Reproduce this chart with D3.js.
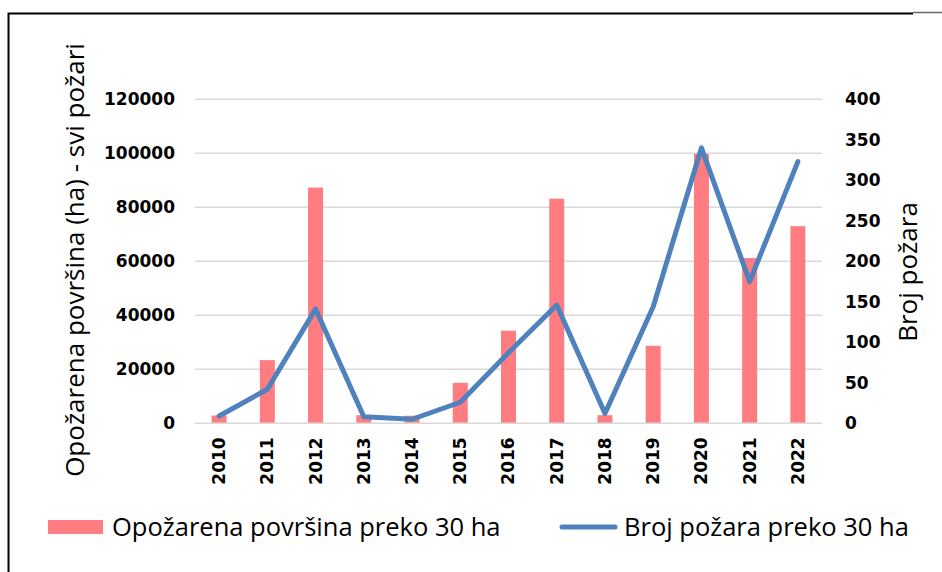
<!DOCTYPE html>
<html>
<head>
<meta charset="utf-8">
<script src="https://cdn.jsdelivr.net/npm/d3@7"></script>
<style>
  body { margin: 0; background: #fff; }
  .tick text { font-family: "DejaVu Sans", sans-serif; font-weight: bold; font-size: 17px; fill: #000; }
  .title { font-family: "Open Sans", sans-serif; font-size: 26px; fill: #000; }
  .legend { font-family: "Open Sans", sans-serif; font-size: 25.5px; fill: #000; }
</style>
</head>
<body>
<script>
const years = ["2010","2011","2012","2013","2014","2015","2016","2017","2018","2019","2020","2021","2022"];
const burnedArea = [2900, 23400, 87300, 3000, 2800, 15000, 34300, 83200, 3000, 28700, 99800, 61200, 73000];
const fireCount = [9, 42, 141, 8, 5, 26, 87, 146, 12, 144, 340, 175, 323];
const leftTicks = [0, 20000, 40000, 60000, 80000, 100000, 120000];
const rightTicks = [0, 50, 100, 150, 200, 250, 300, 350, 400];

const width = 942, height = 572;
const plot = { left: 195, right: 822, top: 99.3, bottom: 423.3 };

const svg = d3.select("body").append("svg")
    .attr("width", width)
    .attr("height", height);

// frame (left + top edge of the pasted image)
svg.append("path")
    .attr("d", `M8.5,572 V13.5 H913`)
    .attr("fill", "none")
    .attr("stroke", "#000")
    .attr("stroke-width", 2);
svg.append("line")
    .attr("x1", 913).attr("x2", 942).attr("y1", 12.5).attr("y2", 12.5)
    .attr("stroke", "#666").attr("stroke-width", 1.5);

const x = d3.scaleBand()
    .domain(years)
    .range([plot.left, plot.right]);

const yLeft = d3.scaleLinear()
    .domain([0, 120000])
    .range([plot.bottom, plot.top]);

const yRight = d3.scaleLinear()
    .domain([0, 400])
    .range([plot.bottom, plot.top]);

// gridlines
svg.append("g")
    .selectAll("line")
    .data(leftTicks.slice(1))
    .join("line")
    .attr("x1", plot.left)
    .attr("x2", plot.right)
    .attr("y1", d => yLeft(d))
    .attr("y2", d => yLeft(d))
    .attr("stroke", "#d9d9d9")
    .attr("stroke-width", 1.5);

// left axis
svg.append("g")
    .attr("transform", `translate(${plot.left},0)`)
    .call(d3.axisLeft(yLeft).tickValues(leftTicks).tickFormat(d3.format("d")).tickSize(0).tickPadding(20))
    .call(g => g.select(".domain").remove());

// right axis
svg.append("g")
    .attr("transform", `translate(${plot.right},0)`)
    .call(d3.axisRight(yRight).tickValues(rightTicks).tickSize(0).tickPadding(23))
    .call(g => g.select(".domain").remove());

// bars
const barW = 15;
svg.append("g")
    .selectAll("rect")
    .data(burnedArea)
    .join("rect")
    .attr("x", (d, i) => x(years[i]) + x.bandwidth() / 2 - barW / 2)
    .attr("width", barW)
    .attr("y", d => yLeft(d))
    .attr("height", d => yLeft(0) - yLeft(d))
    .attr("fill", "#ff7c80");

// baseline
svg.append("line")
    .attr("x1", plot.left).attr("x2", plot.right)
    .attr("y1", plot.bottom).attr("y2", plot.bottom)
    .attr("stroke", "#d9d9d9").attr("stroke-width", 1.5);

// x axis
svg.append("g")
    .attr("transform", `translate(0,${plot.bottom})`)
    .call(d3.axisBottom(x).tickSize(0).tickPadding(0))
    .call(g => g.select(".domain").remove())
    .selectAll("text")
    .attr("transform", "rotate(-90)")
    .attr("text-anchor", "end")
    .attr("x", -14)
    .attr("y", 0)
    .attr("dy", "0.35em");

// line
const line = d3.line()
    .x((d, i) => x(years[i]) + x.bandwidth() / 2)
    .y(d => yRight(d));

svg.append("path")
    .datum(fireCount)
    .attr("d", line)
    .attr("fill", "none")
    .attr("stroke", "#4f81bd")
    .attr("stroke-width", 5)
    .attr("stroke-linejoin", "round")
    .attr("stroke-linecap", "round");

// axis titles
svg.append("text")
    .attr("class", "title")
    .attr("transform", "translate(84,260) rotate(-90)")
    .attr("text-anchor", "middle")
    .text("Opožarena površina (ha) - svi požari");

svg.append("text")
    .attr("class", "title")
    .attr("transform", "translate(917,272) rotate(-90)")
    .attr("text-anchor", "middle")
    .text("Broj požara");

// legend
const legend = svg.append("g");
legend.append("rect")
    .attr("x", 48).attr("y", 520).attr("width", 55).attr("height", 14)
    .attr("fill", "#ff7c80");
legend.append("text")
    .attr("class", "legend")
    .attr("x", 112).attr("y", 536)
    .text("Opožarena površina preko 30 ha");
legend.append("line")
    .attr("x1", 562).attr("x2", 615).attr("y1", 527).attr("y2", 527)
    .attr("stroke", "#4f81bd").attr("stroke-width", 5).attr("stroke-linecap", "round");
legend.append("text")
    .attr("class", "legend")
    .attr("x", 624).attr("y", 536)
    .text("Broj požara preko 30 ha");
</script>
</body>
</html>
